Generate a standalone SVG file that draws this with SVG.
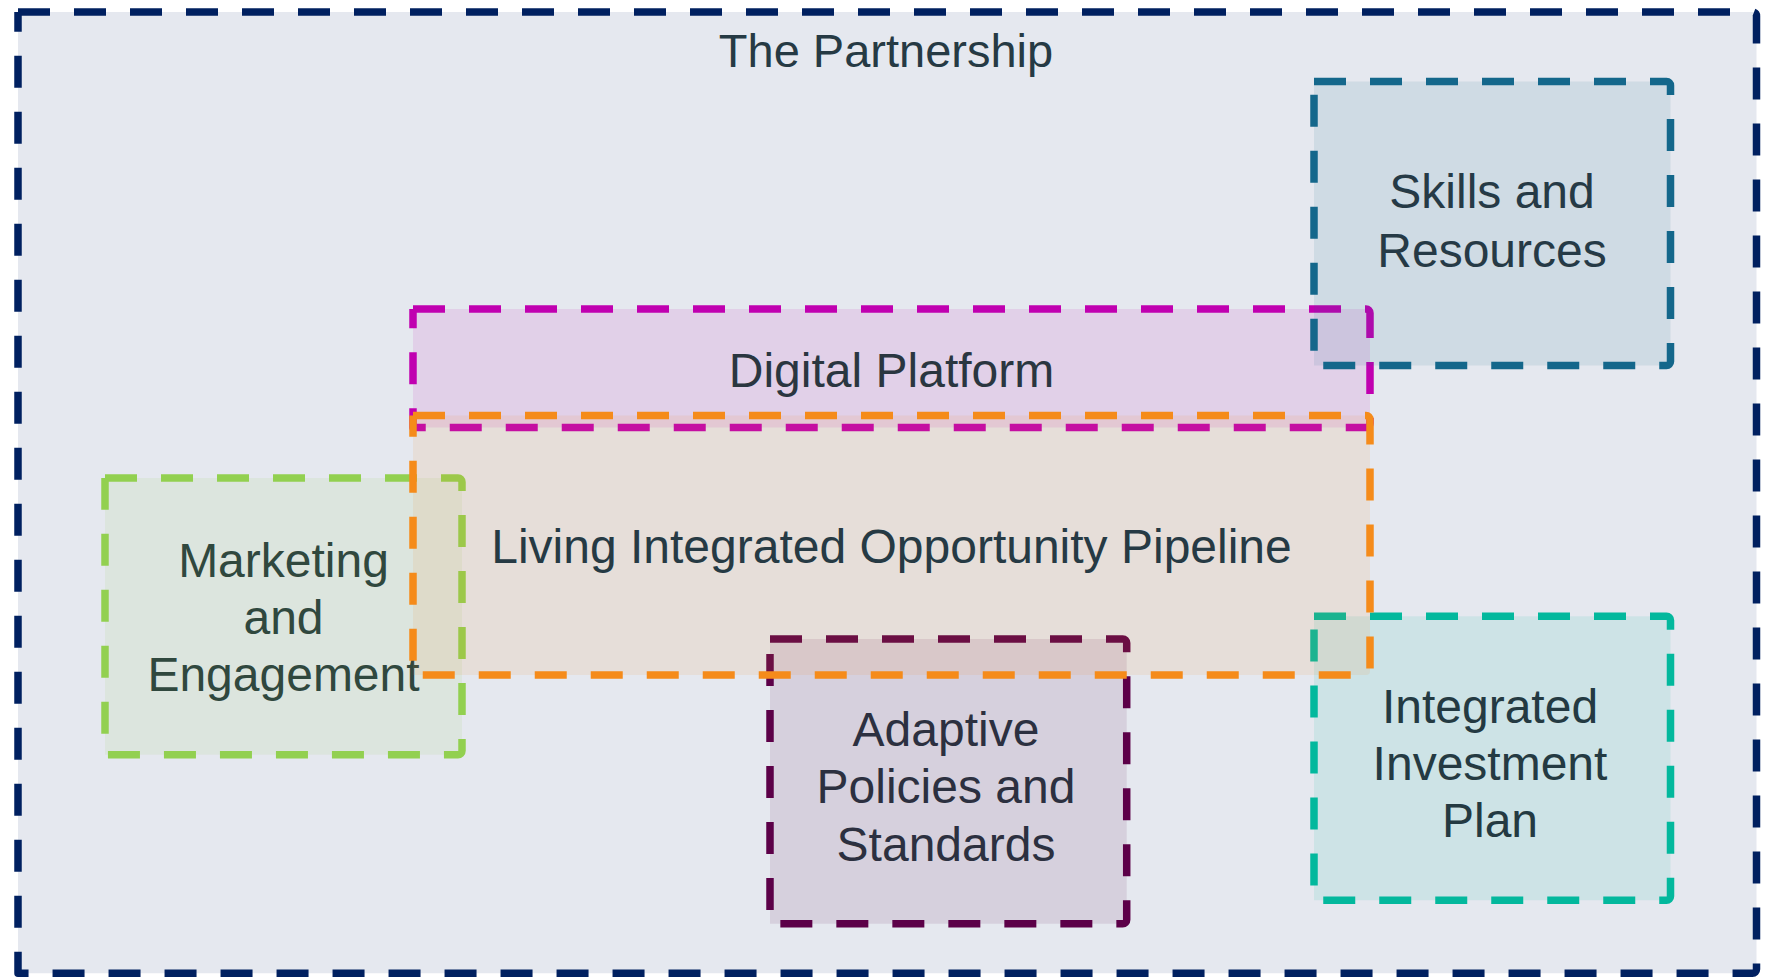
<svg xmlns="http://www.w3.org/2000/svg" width="1768" height="980" viewBox="0 0 1768 980">
<style>
  .box { stroke-width: 7.5; stroke-dasharray: 32 24; fill-opacity: 0.1; stroke-linejoin: round; }
  .lbl { font-family: "Liberation Sans", Arial, sans-serif; font-size: 48px; text-anchor: middle; }
</style>
<rect width="1768" height="980" fill="#ffffff"/>
<g id="partnership">
  <path class="box" fill="#002060" stroke="#002060" d="M18 12 H1752.5 A4 4 0 0 1 1756.5 16 V969.3 A4 4 0 0 1 1752.5 973.3 H18 V12"/>
  <text class="lbl" x="886" y="67" font-size="47" fill="#263a44" style="font-size:47px">The Partnership</text>
</g>
<g id="marketing">
  <path class="box" fill="#92d050" stroke="#92d050" d="M105 478 H458 A4 4 0 0 1 462 482 V750.7 A4 4 0 0 1 458 754.7 H105 V478"/>
  <text class="lbl" fill="#30483e" x="283.5" y="577">Marketing</text>
  <text class="lbl" fill="#30483e" x="283.5" y="634">and</text>
  <text class="lbl" fill="#30483e" x="283.5" y="691">Engagement</text>
</g>
<g id="adaptive">
  <path class="box" fill="#5c0048" stroke="#5c0048" d="M770 639 H1122.7 A4 4 0 0 1 1126.7 643 V919.7 A4 4 0 0 1 1122.7 923.7 H770 V639"/>
  <text class="lbl" fill="#2c3040" x="946" y="746">Adaptive</text>
  <text class="lbl" fill="#2c3040" x="946" y="803">Policies and</text>
  <text class="lbl" fill="#2c3040" x="946" y="860.5">Standards</text>
</g>
<g id="investment">
  <path class="box" fill="#03b89d" stroke="#03b89d" d="M1314 616.3 H1666.5 A4 4 0 0 1 1670.5 620.3 V896.3 A4 4 0 0 1 1666.5 900.3 H1314 V616.3"/>
  <text class="lbl" fill="#243a42" x="1490" y="722.7">Integrated</text>
  <text class="lbl" fill="#243a42" x="1490" y="780">Investment</text>
  <text class="lbl" fill="#243a42" x="1490" y="837.3">Plan</text>
</g>
<g id="digital">
  <path class="box" fill="#c000b0" stroke="#c000b0" d="M413 309 H1366 A4 4 0 0 1 1370 313 V423.5 A4 4 0 0 1 1366 427.5 H413 V309"/>
  <text class="lbl" fill="#2a3640" x="891.5" y="386.5">Digital Platform</text>
</g>
<g id="skills">
  <path class="box" fill="#14678b" stroke="#14678b" d="M1314 81.5 H1666.5 A4 4 0 0 1 1670.5 85.5 V361.5 A4 4 0 0 1 1666.5 365.5 H1314 V81.5"/>
  <text class="lbl" fill="#263a46" x="1492" y="208">Skills and</text>
  <text class="lbl" fill="#263a46" x="1492" y="267">Resources</text>
</g>
<g id="pipeline">
  <path class="box" fill="#f58b1a" stroke="#f58b1a" d="M413 415.5 H1366 A4 4 0 0 1 1370 419.5 V671 A4 4 0 0 1 1366 675 H413 V415.5"/>
  <text class="lbl" fill="#263a44" x="891.5" y="562.5">Living Integrated Opportunity Pipeline</text>
</g>
<g id="connectors"></g>
</svg>
